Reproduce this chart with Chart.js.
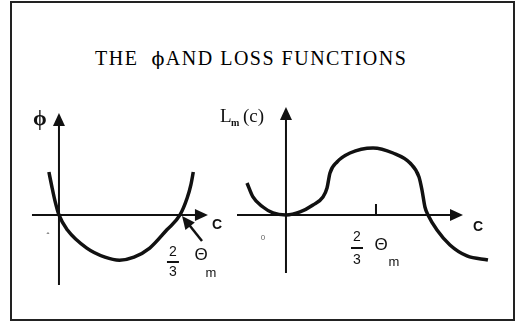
<!DOCTYPE html>
<html>
<head>
<meta charset="utf-8">
<script src="https://cdn.jsdelivr.net/npm/chart.js@4/dist/chart.umd.min.js"></script>
<style>
  body { margin: 0; background: #fff; width: 515px; height: 328px; overflow: hidden; position: relative; }
  #frame { position: absolute; left: 10px; top: 1px; width: 501px; height: 316px; border: 2px solid #222; }
  #title { position: absolute; left: 95px; top: 47px; font: 20px "Liberation Serif", serif; letter-spacing: 1.5px; color: #000; white-space: nowrap; }
  #title .phi { font-family: "DejaVu Serif", serif; font-size: 19px; color: #000; }
  canvas { position: absolute; }
</style>
</head>
<body>
<div id="frame"></div>
<div id="title">THE&nbsp; <span class="phi">ϕ</span>AND LOSS FUNCTIONS</div>
<canvas id="phiChart" width="220" height="200" style="left:20px;top:100px"></canvas>
<canvas id="lossChart" width="290" height="200" style="left:220px;top:100px"></canvas>
<script>
// phi(c): c in units of the (2/3)Θm crossing, phi in arbitrary units
const phiC   = [-0.083, -0.058, -0.033, 0, 0.07, 0.23, 0.38, 0.5, 0.62, 0.75, 0.89, 1.0, 1.06, 1.09, 1.11];
const phiVal = [1.0, 0.65, 0.33, 0, -0.35, -0.77, -0.98, -1.05, -0.98, -0.77, -0.35, 0, 0.4, 0.7, 1.0];

// loss L_m(c): c in units of (2/3)Θm
const lossC   = [-0.433, -0.367, -0.256, -0.144, 0, 0.156, 0.30, 0.411, 0.456, 0.489, 0.567, 0.711, 0.967, 1.189, 1.378, 1.478, 1.511, 1.544, 1.578, 1.678, 1.822, 2.011, 2.244];
const lossVal = [0.478, 0.269, 0.119, 0.03, 0, 0.045, 0.149, 0.269, 0.403, 0.627, 0.791, 0.925, 1.0, 0.925, 0.776, 0.567, 0.373, 0.119, 0, -0.224, -0.448, -0.612, -0.672];

const ink = '#111';

function arrowHead(ctx, x, y, dir) {
  ctx.beginPath();
  if (dir === 'right') { ctx.moveTo(x, y); ctx.lineTo(x - 13, y - 6); ctx.lineTo(x - 13, y + 6); }
  else { ctx.moveTo(x, y); ctx.lineTo(x - 6, y + 13); ctx.lineTo(x + 6, y + 13); }
  ctx.closePath();
  ctx.fill();
}

const sketchAxes = {
  id: 'sketchAxes',
  beforeDatasetsDraw(chart, args, opts) {
    const { ctx, scales: { x, y } } = chart;
    const x0 = x.getPixelForValue(0), y0 = y.getPixelForValue(0);
    ctx.save();
    ctx.strokeStyle = ink; ctx.fillStyle = ink; ctx.lineWidth = 2;
    const xEnd = x.getPixelForValue(opts.xTo), yEnd = y.getPixelForValue(opts.yTo);
    ctx.beginPath();
    ctx.moveTo(x.getPixelForValue(opts.xFrom), y0); ctx.lineTo(xEnd - 10, y0);
    ctx.moveTo(x0, y.getPixelForValue(opts.yFrom)); ctx.lineTo(x0, yEnd + 10);
    (opts.ticks || []).forEach(t => {
      const px = x.getPixelForValue(t);
      ctx.moveTo(px, y0); ctx.lineTo(px, y0 - 11);
    });
    ctx.stroke();
    arrowHead(ctx, xEnd, y0, 'right');
    arrowHead(ctx, x0, yEnd, 'up');
    ctx.restore();
  },
  afterDraw(chart, args, opts) {
    const { ctx, scales: { x, y } } = chart;
    ctx.save();
    ctx.strokeStyle = ink;
    ctx.textBaseline = 'middle';
    (opts.labels || []).forEach(l => {
      ctx.font = l.font;
      ctx.fillStyle = l.color || ink;
      ctx.textAlign = l.align || 'center';
      ctx.fillText(l.text, x.getPixelForValue(l.c), y.getPixelForValue(l.v));
    });
    (opts.bars || []).forEach(b => {
      ctx.lineWidth = 2;
      ctx.beginPath();
      ctx.moveTo(x.getPixelForValue(b.c) - 6, y.getPixelForValue(b.v));
      ctx.lineTo(x.getPixelForValue(b.c) + 6, y.getPixelForValue(b.v));
      ctx.stroke();
    });
    if (opts.pointer) {
      const p = opts.pointer;
      const x1 = x.getPixelForValue(p.c1), y1 = y.getPixelForValue(p.v1);
      const x2 = x.getPixelForValue(p.c2), y2 = y.getPixelForValue(p.v2);
      const a = Math.atan2(y2 - y1, x2 - x1);
      ctx.fillStyle = ink;
      ctx.lineWidth = 2.5;
      ctx.beginPath(); ctx.moveTo(x1, y1); ctx.lineTo(x2 - 9 * Math.cos(a), y2 - 9 * Math.sin(a)); ctx.stroke();
      ctx.beginPath();
      ctx.moveTo(x2, y2);
      ctx.lineTo(x2 - 13 * Math.cos(a) + 6 * Math.sin(a), y2 - 13 * Math.sin(a) - 6 * Math.cos(a));
      ctx.lineTo(x2 - 13 * Math.cos(a) - 6 * Math.sin(a), y2 - 13 * Math.sin(a) + 6 * Math.cos(a));
      ctx.closePath(); ctx.fill();
    }
    ctx.restore();
  }
};

const sans = '"Liberation Sans", Arial, sans-serif';
const serif = '"Liberation Serif", serif';

function makeChart(id, cs, vs, scales, axes) {
  return new Chart(document.getElementById(id), {
    type: 'scatter',
    data: {
      datasets: [{
        data: cs.map((c, i) => ({ x: c, y: vs[i] })),
        showLine: true,
        borderColor: ink,
        borderWidth: 3.5,
        pointRadius: 0,
        cubicInterpolationMode: 'monotone',
        fill: false
      }]
    },
    options: {
      responsive: false,
      animation: false,
      layout: { padding: 0 },
      plugins: { legend: { display: false }, tooltip: { enabled: false }, sketchAxes: axes },
      scales: {
        x: { type: 'linear', min: scales.xMin, max: scales.xMax, display: false },
        y: { type: 'linear', min: scales.yMin, max: scales.yMax, display: false }
      }
    },
    plugins: [sketchAxes]
  });
}

makeChart('phiChart', phiC, phiVal,
  { xMin: -0.322, xMax: 1.496, yMin: -1.977, yMax: 2.674 },
  {
    xFrom: -0.223, xTo: 1.231, yFrom: -1.63, yTo: 2.37,
    labels: [
      { text: 'ϕ', c: -0.157, v: 2.23, font: 'bold 22px ' + serif },
      { text: 'C', c: 1.306, v: -0.233, font: 'bold 14px ' + sans },
      { text: '2', c: 0.942, v: -0.86, font: '14px ' + sans },
      { text: '3', c: 0.942, v: -1.326, font: '14px ' + sans },
      { text: 'Θ', c: 1.174, v: -0.93, font: '17px ' + sans },
      { text: 'm', c: 1.256, v: -1.349, font: '13px ' + sans },
      { text: 'ˆ', c: -0.09, v: -0.5, font: '9px ' + sans, color: '#444' }
    ],
    bars: [{ c: 0.942, v: -1.093 }],
    pointer: { c1: 1.182, v1: -0.605, c2: 1.017, v2: -0.023 }
  });

makeChart('lossChart', lossC, lossVal,
  { xMin: -0.733, xMax: 2.489, yMin: -1.269, yMax: 1.716 },
  {
    xFrom: -0.544, xTo: 1.967, yFrom: -0.866, yTo: 1.612, ticks: [1],
    labels: [
      { text: 'L', c: -0.733, v: 1.463, font: '19px ' + serif, align: 'left' },
      { text: 'm', c: -0.611, v: 1.37, font: 'bold 10px ' + serif, align: 'left' },
      { text: '(c)', c: -0.478, v: 1.463, font: '19px ' + serif, align: 'left' },
      { text: 'C', c: 2.133, v: -0.179, font: 'bold 14px ' + sans },
      { text: '2', c: 0.789, v: -0.328, font: '14px ' + sans },
      { text: '3', c: 0.789, v: -0.672, font: '14px ' + sans },
      { text: 'Θ', c: 1.056, v: -0.448, font: '17px ' + sans },
      { text: 'm', c: 1.2, v: -0.701, font: '13px ' + sans },
      { text: '0', c: -0.256, v: -0.343, font: '8px ' + sans, color: '#666' }
    ],
    bars: [{ c: 0.789, v: -0.493 }]
  });
</script>
</body>
</html>
